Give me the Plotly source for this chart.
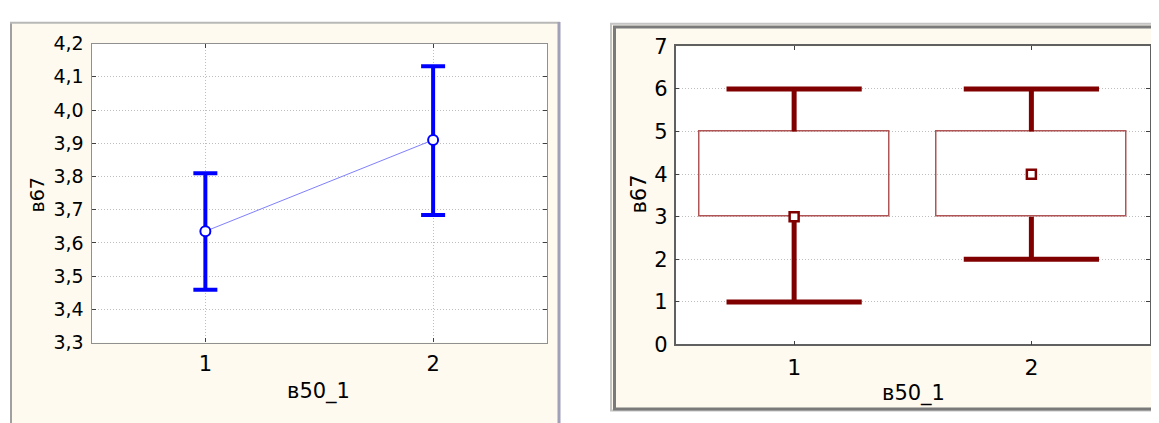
import plotly.graph_objects as go

# ---------------- data ----------------
groups = [1, 2]
group_labels = ["1", "2"]

# left panel: means with confidence intervals
mean_values = [3.635, 3.91]
ci_upper = [3.81, 4.132]
ci_lower = [3.459, 3.684]

# right panel: box plot statistics
box_q1 = [3, 3]
box_q3 = [5, 5]
whisker_min = [1, 2]
whisker_max = [6, 6]
median_values = [3, 4]

left_yticks = [3.3, 3.4, 3.5, 3.6, 3.7, 3.8, 3.9, 4.0, 4.1, 4.2]
right_yticks = [0, 1, 2, 3, 4, 5, 6, 7]

x_title = "в50_1"
y_title = "в67"

# ---------------- styles ----------------
W, H = 1159, 423
OFF = 8  # page body margin in the browser
FONT = "DejaVu Sans, Liberation Sans, Arial, sans-serif"
CREAM = "#FFFAF0"
BLUE = "#0000FF"
DARKRED = "#800000"
BOXRED = "#B05555"
CAP_HALF = 0.285
BOX_WIDTH = 0.8

L_DOM_X = [91.5, 547]
L_DOM_Y = [350, 33]
R_DOM_X = [675.5, 1150]
R_DOM_Y = [352, 36]


def px_x(v):
    return (v - OFF) / W


def px_y(v):
    return 1 - (v - OFF) / H


fig = go.Figure()

# left: line between means + CI error bars
fig.add_trace(go.Scatter(
    x=groups, y=mean_values, mode="lines+markers",
    line=dict(color="#7F7FFF", width=1),
    marker=dict(symbol="circle", size=10, color="white",
                line=dict(color=BLUE, width=2)),
    error_y=dict(type="data", symmetric=False,
                 array=[u - m for u, m in zip(ci_upper, mean_values)],
                 arrayminus=[m - l for m, l in zip(mean_values, ci_lower)],
                 color=BLUE, thickness=4, width=12),
    xaxis="x", yaxis="y", showlegend=False, hoverinfo="skip",
))

# right: box (transparent bar from q1 to q3)
fig.add_trace(go.Bar(
    x=groups, y=[q3 - q1 for q1, q3 in zip(box_q1, box_q3)], base=box_q1,
    width=BOX_WIDTH, marker=dict(color="rgba(0,0,0,0)",
                                 line=dict(color=BOXRED, width=1.5)),
    xaxis="x2", yaxis="y2", showlegend=False, hoverinfo="skip",
))

# right: whiskers and caps
wx, wy = [], []
for g, q1, q3, lo, hi in zip(groups, box_q1, box_q3, whisker_min, whisker_max):
    wx += [g, g, None, g - CAP_HALF, g + CAP_HALF, None,
           g, g, None, g - CAP_HALF, g + CAP_HALF, None]
    wy += [q3, hi, None, hi, hi, None, q1, lo, None, lo, lo, None]
fig.add_trace(go.Scatter(
    x=wx, y=wy, mode="lines", line=dict(color=DARKRED, width=5),
    xaxis="x2", yaxis="y2", showlegend=False, hoverinfo="skip",
))

# right: medians
fig.add_trace(go.Scatter(
    x=groups, y=median_values, mode="markers",
    marker=dict(symbol="square", size=9, color="white",
                line=dict(color=DARKRED, width=2.5)),
    xaxis="x2", yaxis="y2", showlegend=False, hoverinfo="skip",
))

axis_common = dict(
    showline=True, mirror="ticks",
    ticks="inside", ticklen=4, tickcolor="#404040", tickwidth=1,
    gridcolor="#BEBEBE", griddash="1px,2px", gridwidth=1,
    zeroline=False, color="black",
)

fig.update_layout(
    width=W, height=H, autosize=False,
    margin=dict(l=0, r=0, t=0, b=0),
    paper_bgcolor="white", plot_bgcolor="white",
    separators=", ",
    font=dict(family=FONT, color="black"),
    bargap=0,
    xaxis=dict(domain=[px_x(L_DOM_X[0]), px_x(L_DOM_X[1])], range=[0.5, 2.5],
               tickvals=groups, ticktext=group_labels, showgrid=True,
               tickfont=dict(size=21), ticklabelstandoff=2, anchor="y",
               linecolor="#909090", linewidth=1.2, **axis_common),
    yaxis=dict(domain=[px_y(L_DOM_Y[0]), px_y(L_DOM_Y[1])], range=[3.3, 4.2],
               tickvals=left_yticks, tickformat=".1f", showgrid=True,
               tickfont=dict(size=19), ticklabelstandoff=3, anchor="x",
               linecolor="#909090", linewidth=1.2, **axis_common),
    xaxis2=dict(domain=[px_x(R_DOM_X[0]), px_x(R_DOM_X[1])], range=[0.5, 2.5],
                tickvals=groups, ticktext=group_labels, showgrid=False,
                tickfont=dict(size=22), ticklabelstandoff=2, anchor="y2",
                linecolor="#606060", linewidth=1.5, **axis_common),
    yaxis2=dict(domain=[px_y(R_DOM_Y[0]), px_y(R_DOM_Y[1])], range=[0, 7],
                tickvals=right_yticks, showgrid=True,
                tickfont=dict(size=21), ticklabelstandoff=2, anchor="x2",
                linecolor="#606060", linewidth=1.5, **axis_common),
)

# panel frames (decoration)
shapes = [
    dict(type="rect", xref="paper", yref="paper", layer="below",
         x0=px_x(10), x1=px_x(560), y0=px_y(440), y1=px_y(10),
         fillcolor=CREAM, line=dict(width=0)),
    dict(type="line", xref="paper", yref="paper", layer="below",
         x0=px_x(11), x1=px_x(11), y0=px_y(440), y1=px_y(10),
         line=dict(color="#A0A0A0", width=2)),
    dict(type="line", xref="paper", yref="paper", layer="below",
         x0=px_x(10), x1=px_x(560), y0=px_y(11), y1=px_y(11),
         line=dict(color="#B8B8B8", width=2)),
    dict(type="line", xref="paper", yref="paper", layer="below",
         x0=px_x(559), x1=px_x(559), y0=px_y(440), y1=px_y(10),
         line=dict(color="#A0A0B8", width=3)),
    dict(type="rect", xref="paper", yref="paper", layer="below",
         x0=px_x(611), x1=px_x(1180), y0=px_y(422), y1=px_y(12),
         fillcolor=CREAM, line=dict(color="#C4C4C4", width=2)),
    dict(type="rect", xref="paper", yref="paper", layer="below",
         x0=px_x(614.5), x1=px_x(1180), y0=px_y(420.5), y1=px_y(15.5),
         fillcolor="rgba(0,0,0,0)", line=dict(color="#7A7A7A", width=3)),
    # white plot areas
    dict(type="rect", xref="paper", yref="paper", layer="below",
         x0=px_x(L_DOM_X[0]), x1=px_x(L_DOM_X[1]),
         y0=px_y(L_DOM_Y[0]), y1=px_y(L_DOM_Y[1]),
         fillcolor="white", line=dict(width=0)),
    dict(type="rect", xref="paper", yref="paper", layer="below",
         x0=px_x(R_DOM_X[0]), x1=px_x(R_DOM_X[1]),
         y0=px_y(R_DOM_Y[0]), y1=px_y(R_DOM_Y[1]),
         fillcolor="white", line=dict(width=0)),
]
fig.update_layout(shapes=shapes)

ann = dict(xref="paper", yref="paper", showarrow=False,
           xanchor="center", yanchor="middle")
fig.add_annotation(text=y_title, x=px_x(37), y=px_y(194), textangle=-90,
                   font=dict(family=FONT, size=19, color="black"), **ann)
fig.add_annotation(text=x_title, x=px_x(318), y=px_y(402),
                   font=dict(family=FONT, size=21, color="black"), **ann)
fig.add_annotation(text=y_title, x=px_x(639), y=px_y(193), textangle=-90,
                   font=dict(family=FONT, size=21, color="black"), **ann)
fig.add_annotation(text=x_title, x=px_x(913), y=px_y(404),
                   font=dict(family=FONT, size=21, color="black"), **ann)

fig.write_html("out.html")
